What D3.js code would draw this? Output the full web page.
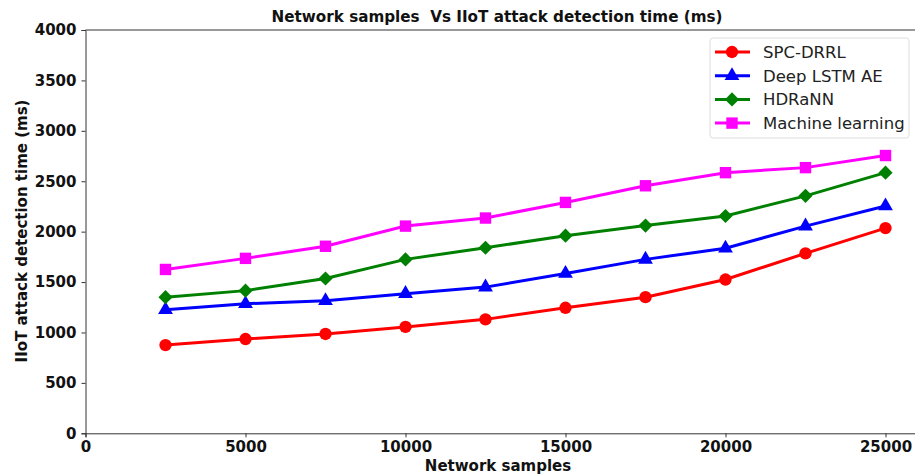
<!DOCTYPE html>
<html><head><meta charset="utf-8">
<script src="https://cdn.jsdelivr.net/npm/d3@7"></script>
<style>
body{margin:0;background:#fff;}
svg{display:block;font-family:"DejaVu Sans",sans-serif;}
</style></head>
<body>
<svg id="chart" width="915" height="474"></svg>
<script>
const samples = [2500, 5000, 7500, 10000, 12500, 15000, 17500, 20000, 22500, 25000];
const spcDrrl = [875, 935, 985, 1055, 1130, 1245, 1350, 1525, 1785, 2035];
const deepLstmAe = [1225, 1285, 1315, 1385, 1450, 1585, 1725, 1835, 2055, 2255];
const hdrann = [1350, 1415, 1535, 1725, 1840, 1960, 2060, 2155, 2355, 2585];
const machineLearning = [1625, 1735, 1855, 2055, 2135, 2290, 2455, 2585, 2635, 2755];
const xTicks = [0, 5000, 10000, 15000, 20000, 25000];
const yTicks = [0, 500, 1000, 1500, 2000, 2500, 3000, 3500, 4000];
const seriesNames = ["SPC-DRRL", "Deep LSTM AE", "HDRaNN", "Machine learning"];

const series = [
  {name: seriesNames[0], values: spcDrrl, color: "#ff0000", symbol: d3.symbolCircle, size: 120, rot: 0},
  {name: seriesNames[1], values: deepLstmAe, color: "#0000ff", symbol: d3.symbolTriangle, size: 95, rot: 0},
  {name: seriesNames[2], values: hdrann, color: "#008000", symbol: d3.symbolSquare, size: 100, rot: 45},
  {name: seriesNames[3], values: machineLearning, color: "#ff00ff", symbol: d3.symbolSquare, size: 130, rot: 0}
];

const svg = d3.select("#chart");
const mLeft = 85.5, mTop = 30, mBottom = 433.3, mRight = 917.5;
const x = d3.scaleLinear().domain([0, 26000]).range([mLeft, mRight]);
const y = d3.scaleLinear().domain([0, 4000]).range([mBottom, mTop]);

// frame
svg.append("line").attr("x1", mLeft).attr("x2", mRight).attr("y1", mTop).attr("y2", mTop)
  .attr("stroke", "#333").attr("stroke-width", 1);
svg.append("line").attr("x1", mRight).attr("x2", mRight).attr("y1", mTop).attr("y2", mBottom)
  .attr("stroke", "#333").attr("stroke-width", 1);

const xAxis = svg.append("g").attr("transform", `translate(0,${mBottom})`)
  .call(d3.axisBottom(x).tickValues(xTicks).tickFormat(d3.format("d")).tickSizeOuter(0).tickSize(4).tickPadding(4));
const yAxis = svg.append("g").attr("transform", `translate(${mLeft},0)`)
  .call(d3.axisLeft(y).tickValues(yTicks).tickFormat(d3.format("d")).tickSizeOuter(0).tickSize(4).tickPadding(5));
[xAxis, yAxis].forEach(g => {
  g.selectAll(".domain").attr("stroke", "#333").attr("stroke-width", 1);
  g.selectAll(".tick line").attr("stroke", "#333");
  g.selectAll("text").attr("font-family", "DejaVu Sans").attr("font-size", 15)
    .attr("font-weight", "bold").attr("fill", "#111");
});

const line = d3.line().x((d, i) => x(samples[i])).y(d => y(d));
series.forEach(s => {
  svg.append("path").datum(s.values).attr("d", line)
    .attr("fill", "none").attr("stroke", s.color).attr("stroke-width", 3);
  svg.selectAll(null).data(s.values).enter().append("path")
    .attr("d", d3.symbol().type(s.symbol).size(s.size))
    .attr("transform", (d, i) => `translate(${x(samples[i])},${y(d)}) rotate(${s.rot})`)
    .attr("fill", s.color);
});

// title
svg.append("text").attr("x", 497).attr("y", 22).attr("text-anchor", "middle")
  .attr("font-size", 15.2).attr("font-weight", "bold").attr("fill", "#111")
  .attr("xml:space", "preserve").style("white-space", "pre")
  .text("Network samples  Vs IIoT attack detection time (ms)");
svg.append("text").attr("x", 498).attr("y", 471).attr("text-anchor", "middle")
  .attr("font-size", 15).attr("font-weight", "bold").attr("fill", "#111")
  .text("Network samples");
svg.append("text").attr("transform", "translate(27,231) rotate(-90)").attr("text-anchor", "middle")
  .attr("font-size", 15).attr("font-weight", "bold").attr("fill", "#111")
  .text("IIoT attack detection time (ms)");

// legend
const lg = svg.append("g");
lg.append("rect").attr("x", 710).attr("y", 38).attr("width", 199).attr("height", 100)
  .attr("rx", 3).attr("fill", "#fff").attr("stroke", "#ddd").attr("stroke-width", 1);
series.forEach((s, i) => {
  const yy = 52 + i * 23.7;
  lg.append("line").attr("x1", 715).attr("x2", 750).attr("y1", yy).attr("y2", yy)
    .attr("stroke", s.color).attr("stroke-width", 3);
  lg.append("path").attr("d", d3.symbol().type(s.symbol).size(s.size))
    .attr("transform", `translate(732,${yy}) rotate(${s.rot})`).attr("fill", s.color);
  lg.append("text").attr("x", 763).attr("y", yy + 6).attr("font-size", 16.5)
    .attr("fill", "#222").text(s.name);
});
</script>
</body></html>
